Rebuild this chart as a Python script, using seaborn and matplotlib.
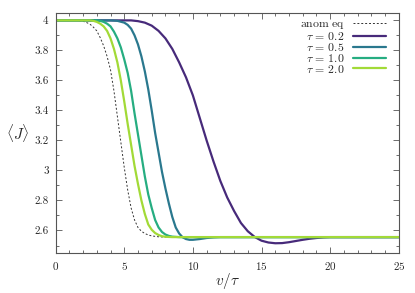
import numpy as np
import pandas as pd
import matplotlib
matplotlib.use("Agg")
import matplotlib.pyplot as plt
import seaborn as sns
from matplotlib.ticker import MultipleLocator, FormatStrFormatter

# values
anom_x = [0, 1.5, 1.75, 2, 2.25, 2.5, 2.75, 3, 3.25, 3.5, 3.75, 4, 4.25, 4.5, 4.75, 5, 5.25, 5.5, 5.75, 6, 6.25, 6.5, 6.75, 7, 7.5, 8, 25]
anom_y = [4, 4, 3.998, 3.994, 3.986, 3.975, 3.955, 3.93, 3.885, 3.83, 3.76, 3.67, 3.53, 3.36, 3.19, 3.02, 2.87, 2.75, 2.67, 2.62, 2.595, 2.58, 2.57, 2.564, 2.558, 2.556, 2.556]

t02_x = [0, 5.5, 6, 6.5, 7, 7.5, 8, 8.5, 9, 9.5, 10, 10.5, 11, 11.5, 12, 12.5, 13, 13.5, 14, 14.5, 15, 15.5, 16, 16.5, 17, 17.5, 18, 18.5, 19, 19.5, 20, 25]
t02_y = [4, 4, 3.995, 3.985, 3.965, 3.93, 3.88, 3.81, 3.72, 3.62, 3.50, 3.35, 3.20, 3.06, 2.93, 2.82, 2.73, 2.65, 2.595, 2.557, 2.532, 2.52, 2.515, 2.516, 2.522, 2.53, 2.538, 2.545, 2.55, 2.554, 2.556, 2.556]

t05_x = [0, 4, 4.5, 5, 5.25, 5.5, 5.75, 6, 6.25, 6.5, 6.75, 7, 7.25, 7.5, 7.75, 8, 8.25, 8.5, 8.75, 9, 9.25, 9.5, 9.75, 10, 10.5, 11, 11.5, 12, 25]
t05_y = [4, 4, 3.997, 3.985, 3.97, 3.945, 3.90, 3.84, 3.76, 3.66, 3.54, 3.40, 3.25, 3.12, 2.99, 2.88, 2.78, 2.69, 2.62, 2.58, 2.555, 2.543, 2.538, 2.538, 2.543, 2.55, 2.554, 2.556, 2.556]

t10_x = [0, 3, 3.25, 3.5, 3.75, 4, 4.25, 4.5, 4.75, 5, 5.25, 5.5, 5.75, 6, 6.25, 6.5, 6.75, 7, 7.25, 7.5, 7.75, 8, 8.25, 8.5, 9, 25]
t10_y = [4, 4, 3.997, 3.99, 3.978, 3.96, 3.925, 3.88, 3.82, 3.74, 3.65, 3.53, 3.38, 3.24, 3.10, 2.96, 2.84, 2.75, 2.67, 2.62, 2.59, 2.573, 2.564, 2.559, 2.556, 2.556]

t20_x = [0, 2.5, 2.75, 3, 3.25, 3.5, 3.75, 4, 4.25, 4.5, 4.75, 5, 5.25, 5.5, 5.75, 6, 6.25, 6.5, 6.75, 7, 7.25, 7.5, 7.75, 8, 8.5, 25]
t20_y = [4, 4, 3.997, 3.99, 3.978, 3.96, 3.93, 3.88, 3.81, 3.72, 3.60, 3.46, 3.31, 3.17, 3.03, 2.91, 2.80, 2.71, 2.64, 2.605, 2.583, 2.57, 2.562, 2.558, 2.556, 2.556]

tau_labels = [r"$\tau\,=\,0.2$", r"$\tau\,=\,0.5$", r"$\tau\,=\,1.0$", r"$\tau\,=\,2.0$"]

sns.set_style("ticks")
plt.rcParams["mathtext.fontset"] = "cm"
plt.rcParams["font.family"] = ["cmr10", "DejaVu Serif"]
plt.rcParams["axes.formatter.use_mathtext"] = True

fig = plt.figure(figsize=(4.15, 2.93), dpi=100)
ax = fig.add_axes([0.134, 0.1365, 0.827, 0.8185])

cmap = matplotlib.colormaps["viridis"]
colors = [cmap(0.12), cmap(0.40), cmap(0.62), cmap(0.86)]

sns.lineplot(x=anom_x, y=anom_y, ax=ax, color="#333333", lw=0.7,
             linestyle=(0, (2, 2)), label=r"$\mathrm{anom\ eq}$")
for xs, ys, c, lab in zip([t02_x, t05_x, t10_x, t20_x],
                          [t02_y, t05_y, t10_y, t20_y], colors, tau_labels):
    sns.lineplot(x=xs, y=ys, ax=ax, color=c, lw=1.6, label=lab)

ax.set_xlim(0, 25)
ax.set_ylim(2.45, 4.048)
ax.xaxis.set_major_locator(MultipleLocator(5))
ax.xaxis.set_minor_locator(MultipleLocator(1))
ax.yaxis.set_major_locator(MultipleLocator(0.2))
ax.yaxis.set_minor_locator(MultipleLocator(0.1))
ax.yaxis.set_major_formatter(FormatStrFormatter("%g"))
ax.tick_params(which="both", direction="in", top=True, right=True,
               labelsize=8, color="#555555", width=0.6, pad=5)
ax.tick_params(which="major", length=4)
ax.tick_params(which="minor", length=2)
for s in ax.spines.values():
    s.set_color("#555555")
    s.set_linewidth(0.8)

ax.set_xlabel(r"$v/\tau$", fontsize=11, labelpad=-1)
ax.set_ylabel(r"$\langle J \rangle$", fontsize=11, rotation=0, labelpad=12, va="center")

leg = ax.legend(loc="upper right", frameon=False, markerfirst=False, fontsize=8.5,
                handlelength=2.8, labelspacing=-0.1, borderaxespad=0.2,
                handletextpad=0.7, borderpad=0.3, bbox_to_anchor=(0.98, 1.0))

fig.savefig("out.png", dpi=100)
